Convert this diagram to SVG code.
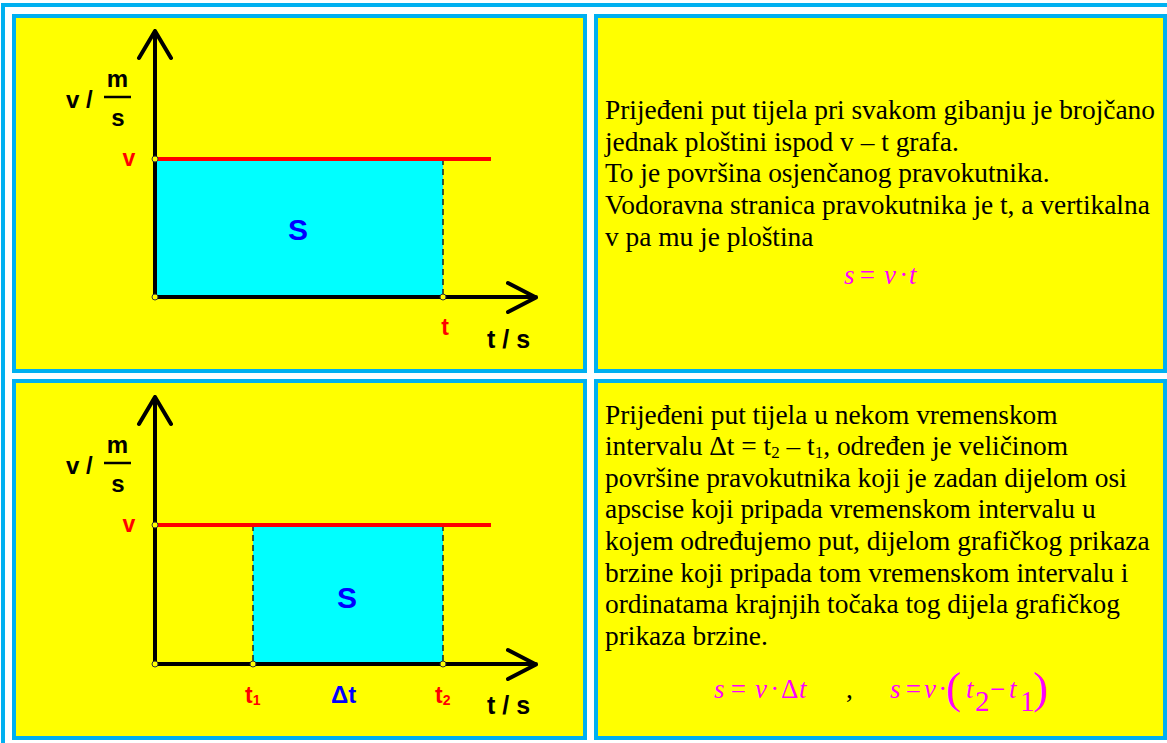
<svg xmlns="http://www.w3.org/2000/svg" width="1167" height="743" viewBox="0 0 1167 743">
<style>
.panel{fill:#FFFF00;stroke:#00B0F0;stroke-width:4}
.axis{fill:none;stroke:#000;stroke-width:4;stroke-linecap:round;stroke-linejoin:round}
.vline{stroke:#FF0000;stroke-width:4}
.area{fill:#00FFFF}
.dash{stroke:#222;stroke-width:1.5;stroke-dasharray:6 4}
.pt{fill:#FFFF00;stroke:#333;stroke-width:1}
.lbl{font-family:"Liberation Sans",Arial,sans-serif;font-weight:bold;font-size:24px;fill:#000}
.red{fill:#FF0000;font-size:23px}
.blue{fill:#0000FF}
.big{font-size:30px}
.ts{font-size:25px}
.txt{font-family:"Liberation Serif","Times New Roman",serif;font-size:27.4px;fill:#000}
.math{font-family:"Liberation Serif","Times New Roman",serif;font-style:italic;font-size:27px;fill:#FF00FF}
.up{font-style:normal}
.par{font-size:45px}
.dig{font-size:29px}
</style>
<rect x="3" y="5" width="1175" height="750" fill="#FFFFFF" stroke="#00B0F0" stroke-width="4"/>
<g id="panel1">
<rect class="panel" x="14" y="16" width="571" height="355"/>
<rect class="area" x="155" y="159" width="288" height="138"/>
<line class="dash" x1="443" y1="159" x2="443" y2="297"/>
<line class="vline" x1="155" y1="159" x2="491" y2="159"/>
<path class="axis" d="M155,297 V31 M139,58 L155,31 L171,58"/>
<path class="axis" d="M155,297 H536 M508,283 L536,297.5 L508,312"/>
<circle class="pt" cx="155" cy="159" r="3"/>
<circle class="pt" cx="155" cy="297" r="3"/>
<circle class="pt" cx="443" cy="297" r="3"/>
<text class="lbl" x="66" y="108">v /</text>
<text class="lbl" x="117.5" y="87" text-anchor="middle">m</text>
<line x1="104" y1="97" x2="131" y2="97" stroke="#000" stroke-width="2.5"/>
<text class="lbl" x="118" y="126" text-anchor="middle">s</text>
<text class="lbl red" x="129" y="166" text-anchor="middle">v</text>
<text class="lbl blue big" x="298" y="240" text-anchor="middle">S</text>
<text class="lbl red" x="445" y="335" text-anchor="middle">t</text>
<text class="lbl ts" x="487" y="348">t / s</text>
</g>
<g id="panel2">
<rect class="panel" x="596" y="16" width="569" height="355"/>
<text class="txt" x="605" y="119">Prijeđeni put tijela pri svakom gibanju je brojčano</text>
<text class="txt" x="605" y="150.7">jednak ploštini ispod v – t grafa.</text>
<text class="txt" x="605" y="182.3">To je površina osjenčanog pravokutnika.</text>
<text class="txt" x="605" y="214">Vodoravna stranica pravokutnika je t, a vertikalna</text>
<text class="txt" x="605" y="245.7">v pa mu je ploština</text>
<text class="math" x="844 858 884 900 909" y="284">s=v·t</text>
</g>
<g id="panel3">
<rect class="panel" x="14" y="381" width="571" height="357"/>
<rect class="area" x="253" y="525" width="190" height="139"/>
<line class="dash" x1="253" y1="525" x2="253" y2="664"/>
<line class="dash" x1="443" y1="525" x2="443" y2="664"/>
<line class="vline" x1="155" y1="525" x2="491" y2="525"/>
<path class="axis" d="M155,664 V397 M139,424 L155,397 L171,424"/>
<path class="axis" d="M155,664 H536 M508,650 L536,664.5 L508,679"/>
<circle class="pt" cx="155" cy="525" r="3"/>
<circle class="pt" cx="155" cy="664" r="3"/>
<circle class="pt" cx="253" cy="664" r="3"/>
<circle class="pt" cx="443" cy="664" r="3"/>
<text class="lbl" x="66" y="474">v /</text>
<text class="lbl" x="117.5" y="453" text-anchor="middle">m</text>
<line x1="104" y1="463" x2="131" y2="463" stroke="#000" stroke-width="2.5"/>
<text class="lbl" x="118" y="492" text-anchor="middle">s</text>
<text class="lbl red" x="129" y="532" text-anchor="middle">v</text>
<text class="lbl blue big" x="347" y="608" text-anchor="middle">S</text>
<text class="lbl red" x="245" y="703">t<tspan font-size="14" dy="2">1</tspan></text>
<text class="lbl blue" x="331" y="703">Δt</text>
<text class="lbl red" x="435" y="703">t<tspan font-size="14" dy="2">2</tspan></text>
<text class="lbl ts" x="487" y="714">t / s</text>
</g>
<g id="panel4">
<rect class="panel" x="596" y="381" width="569" height="357"/>
<text class="txt" x="605" y="423.5">Prijeđeni put tijela u nekom vremenskom</text>
<text class="txt" x="605" y="455">intervalu Δt = t<tspan font-size="17" dy="3">2</tspan><tspan dy="-3"> – t</tspan><tspan font-size="17" dy="3">1</tspan><tspan dy="-3">, određen je veličinom</tspan></text>
<text class="txt" x="605" y="486.7">površine pravokutnika koji je zadan dijelom osi</text>
<text class="txt" x="605" y="518.3">apscise koji pripada vremenskom intervalu u</text>
<text class="txt" x="605" y="550">kojem određujemo put, dijelom grafičkog prikaza</text>
<text class="txt" x="605" y="581.6">brzine koji pripada tom vremenskom intervalu i</text>
<text class="txt" x="605" y="613.2">ordinatama krajnjih točaka tog dijela grafičkog</text>
<text class="txt" x="605" y="644.8">prikaza brzine.</text>
<text class="math" x="714 729 755 771 781 799" y="698">s=v·<tspan class="up">Δ</tspan>t</text>
<text class="txt" x="846" y="698">,</text>
<text class="math" x="890 904 924 939" y="698">s=v·</text>
<text class="math up par" x="946" y="703">(</text>
<text class="math" x="966" y="698">t</text>
<text class="math up dig" x="975" y="711">2</text>
<text class="math up" x="990" y="698">−</text>
<text class="math" x="1009" y="698">t</text>
<text class="math up dig" x="1020" y="711">1</text>
<text class="math up par" x="1033" y="703">)</text>
</g>
</svg>
